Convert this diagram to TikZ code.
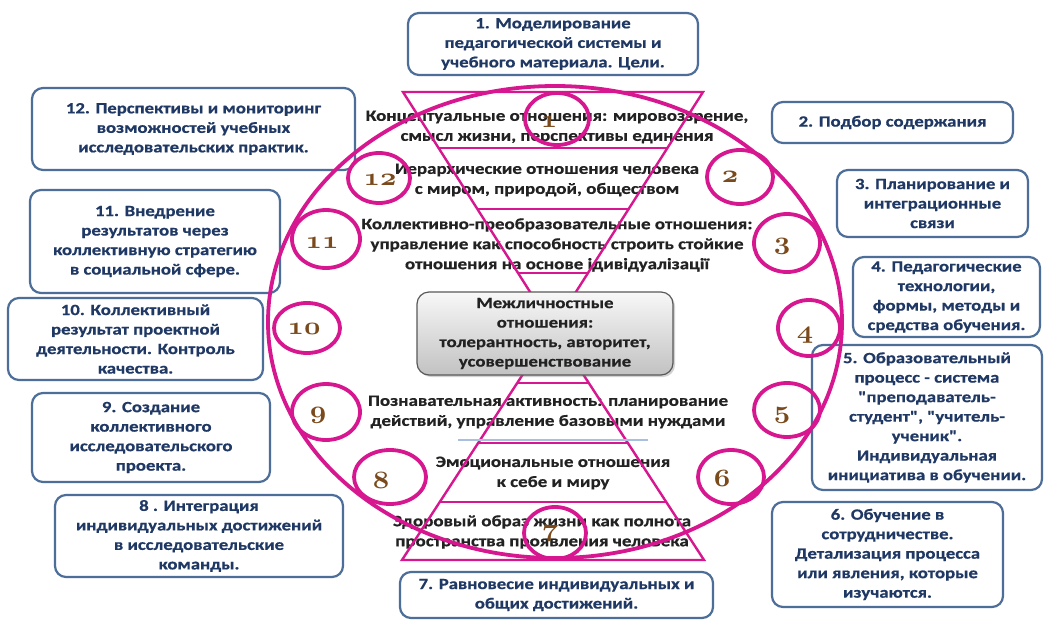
\documentclass[tikz,border=0pt]{standalone}
\usepackage{fontspec}
\newfontfamily\bxfont[FakeStretch=1.2, BoldFeatures={FakeBold=0.6}]{Carlito}
\usetikzlibrary{shadows}
\definecolor{mag}{HTML}{D6178F}
\definecolor{bxline}{HTML}{4C6E98}
\definecolor{bxtext}{HTML}{1F3864}
\definecolor{numc}{HTML}{7A4A1C}
\definecolor{ctxt}{HTML}{222222}
\definecolor{lblue}{HTML}{A8C0E0}
\newcommand{\onum}[1]{\scalebox{1.15}[1]{\fontsize{24.88}{26}\usefont{OML}{cmm}{b}{it}#1}}
\tikzset{
 bx/.style={draw=bxline, line width=2.2pt, rounded corners=11pt, fill=white, align=center, text=bxtext, font=\bxfont\bfseries\fontsize{15.6}{19.5}\selectfont, inner sep=0pt},
 ctext/.style={align=center, text=ctxt, font=\bxfont\bfseries\fontsize{15.8}{20}\selectfont, inner sep=0pt},
 ring/.style={draw=mag, line width=3.8pt},
 tri/.style={draw=mag, line width=2.4pt, line join=miter},
 band/.style={draw=mag, line width=2pt},
 num/.style={text=numc, inner sep=0pt},
 cbox/.style={draw=gray!70!black, line width=1.2pt, rounded corners=12pt, top color=gray!6, bottom color=gray!48, drop shadow={opacity=0.35, shadow xshift=2pt, shadow yshift=-2pt}, align=center, text=ctxt, font=\bxfont\bfseries\fontsize{15.6}{19.5}\selectfont, inner sep=0pt}
}
\begin{document}
\begin{tikzpicture}[x=1pt,y=-1pt]
\useasboundingbox (0,0) rectangle (1044,619);
\fill[white] (0,0) rectangle (1044,619);

% outer boxes
\node[bx, minimum width=290pt, minimum height=62pt] (b1) at (553,44) {1. Моделирование\\педагогической системы и\\учебного материала. Цели.};
\node[bx, minimum width=241pt, minimum height=41pt] (b2) at (892.5,122.5) {2. Подбор содержания};
\node[bx, minimum width=191pt, minimum height=67pt] (b3) at (932.5,203.5) {3. Планирование и\\интеграционные\\связи};
\node[bx, minimum width=187pt, minimum height=80pt] (b4) at (946.5,297) {4. Педагогические\\технологии,\\формы, методы и\\средства обучения.};
\node[bx, minimum width=230pt, minimum height=145pt] (b5) at (927,417.5) {5. Образовательный\\процесс - система\\"преподаватель-\\студент", "учитель-\\ученик".\\Индивидуальная\\инициатива в обучении.};
\node[bx, minimum width=231pt, minimum height=105pt] (b6) at (887.5,554.5) {6. Обучение в\\сотрудничестве.\\Детализация процесса\\или явления, которые\\изучаются.};
\node[bx, minimum width=313pt, minimum height=46pt] (b7) at (556.5,595) {7. Равновесие индивидуальных и\\общих достижений.};
\node[bx, minimum width=288pt, minimum height=82pt] (b8) at (199,536) {8 . Интеграция\\индивидуальных достижений\\в исследовательские\\команды.};
\node[bx, minimum width=238pt, minimum height=89pt] (b9) at (151,437.5) {9. Создание\\коллективного\\исследовательского\\проекта.};
\node[bx, minimum width=255pt, minimum height=82pt] (b10) at (135.5,339) {10. Коллективный\\результат проектной\\деятельности. Контроль\\качества.};
\node[bx, minimum width=250pt, minimum height=103pt] (b11) at (155,241.5) {11. Внедрение\\результатов через\\коллективную стратегию\\в социальной сфере.};
\node[bx, minimum width=323pt, minimum height=82pt] (b12) at (193.5,129) {12. Перспективы и мониторинг\\возможностей учебных\\исследовательских практик.};

% central texts
\node[ctext] (t1) at (557,127) {Концептуальные отношения: мировоззрение,\\смысл жизни, перспективы единения};
\node[ctext] (t2) at (547,180) {Иерархические отношения человека\\с миром, природой, обществом};
\node[ctext] (t3) at (557,245) {Коллективно-преобразовательные отношения:\\управление как способность строить стойкие\\отношения на основе ідивідуалізації};
\node[ctext] (t4) at (548,412) {Познавательная активность: планирование\\действий, управление базовыми нуждами};
\node[ctext] (t5) at (553,473) {Эмоциональные отношения\\к себе и миру};
\node[ctext] (t6) at (542,532) {Здоровый образ жизни как полнота\\пространства проявления человека};

% triangles
\coordinate (dl) at (403,92);
\coordinate (dr) at (703,92);
\coordinate (ap) at (553,328);
\coordinate (ul) at (402,560);
\coordinate (ur) at (704,560);
\draw[tri] (dl) -- (dr) -- (ap) -- cycle;
\draw[tri] (ul) -- (ur) -- (ap) -- cycle;
\draw[band] (438.6,148) -- (667.4,148);
\draw[band] (477.4,209) -- (628.6,209);
\draw[band] (518,273) -- (588,273);
\draw[band] (517,383) -- (589,383);
\draw[band] (478,443) -- (628,443);
\draw[band] (440,502) -- (666,502);
\draw[draw=lblue, line width=1.5pt] (458,440) -- (648,440);

% big ellipse
\draw[ring] (555,322) ellipse [x radius=287, y radius=236];

% small rings
\draw[ring] (557,119) ellipse [x radius=32, y radius=26];
\draw[ring] (740,177) ellipse [x radius=33, y radius=27];
\draw[ring] (787,243) ellipse [x radius=33, y radius=29];
\draw[ring] (809,328) ellipse [x radius=31, y radius=28];
\draw[ring] (787,410) ellipse [x radius=33, y radius=27];
\draw[ring] (731,477) ellipse [x radius=33, y radius=27];
\draw[ring] (555,533) ellipse [x radius=31, y radius=26];
\draw[ring] (390,477) ellipse [x radius=36, y radius=27];
\draw[ring] (326,412) ellipse [x radius=34, y radius=28];
\draw[ring] (307,328) ellipse [x radius=33, y radius=25];
\draw[ring] (326,239) ellipse [x radius=34, y radius=29];
\draw[ring] (379,178) ellipse [x radius=31, y radius=25];

% numbers
\node[num] (n1) at (549,122) {\onum{1}};
\node[num] (n2) at (730,177) {\onum{2}};
\node[num] (n3) at (782,246) {\onum{3}};
\node[num] (n4) at (805,335) {\onum{4}};
\node[num] (n5) at (782,415) {\onum{5}};
\node[num] (n6) at (722,478) {\onum{6}};
\node[num] (n7) at (550,533) {\onum{7}};
\node[num] (n8) at (381,480) {\onum{8}};
\node[num] (n9) at (318,415) {\onum{9}};
\node[num] (n10) at (304,329) {\onum{10}};
\node[num] (n11) at (322,243) {\onum{11}};
\node[num] (n12) at (380,180) {\onum{12}};

% centre box
\node[cbox, minimum width=256pt, minimum height=83pt] (c) at (545,333.5) {Межличностные\\отношения:\\толерантность, авторитет,\\усовершенствование};
\end{tikzpicture}
\end{document}
